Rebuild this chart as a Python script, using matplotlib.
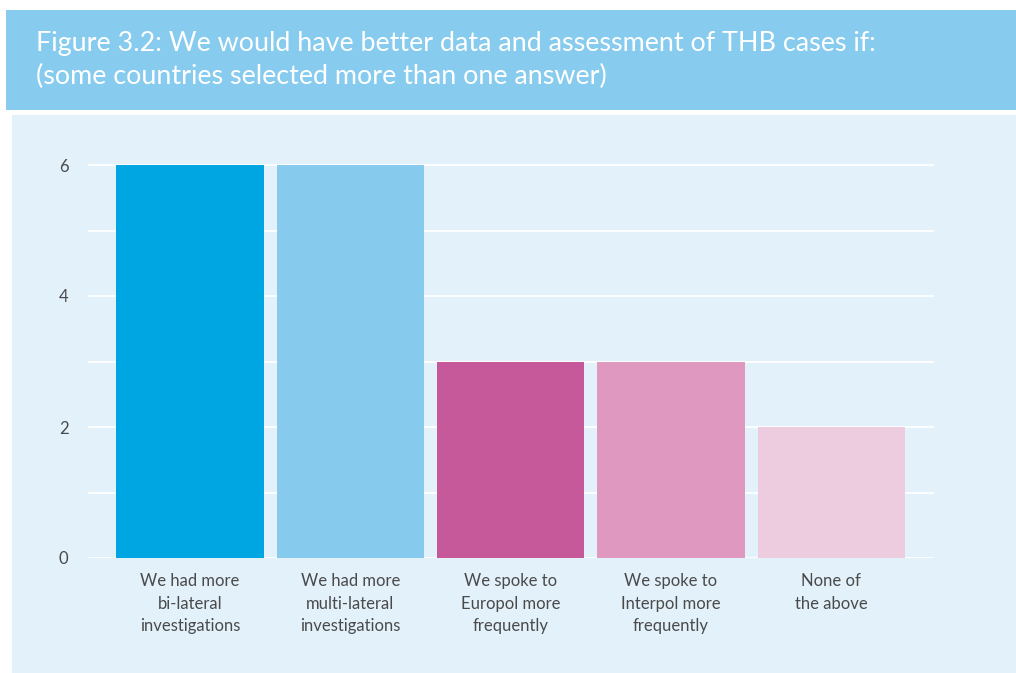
import matplotlib
matplotlib.use("Agg")
import matplotlib.pyplot as plt
from matplotlib.patches import Rectangle

categories = ["We had more\nbi-lateral\ninvestigations",
              "We had more\nmulti-lateral\ninvestigations",
              "We spoke to\nEuropol more\nfrequently",
              "We spoke to\nInterpol more\nfrequently",
              "None of\nthe above"]
values = [6, 6, 3, 3, 2]
colors = ["#00A6E2", "#86CBEE", "#C65999", "#DF98C0", "#EDCCE0"]
title = "Figure 3.2: We would have better data and assessment of THB cases if:\n(some countries selected more than one answer)"

W, H = 1016, 673
fig = plt.figure(figsize=(W/100, H/100), dpi=100)
fig.patch.set_facecolor("white")

def px_rect(x0, y0, x1, y1, color):
    fig.patches.append(Rectangle((x0/W, 1 - y1/H), (x1-x0)/W, (y1-y0)/H,
                                 transform=fig.transFigure, facecolor=color,
                                 edgecolor="none", zorder=-10))

px_rect(6, 10, W, 110, "#87CBEE")
px_rect(12, 115, W, H, "#E3F1FB")

fig.text(36/W, 1 - 31/H, title, color="white", fontsize=19.4, family="Lato",
         va="top", ha="left", linespacing=1.38)

ax_top, ax_bot = 160, 558
ax = fig.add_axes([88/W, 1 - ax_bot/H, 846/W, (ax_bot-ax_top)/H])
ax.set_facecolor("none")
x = list(range(len(values)))
ax.bar(x, values, width=0.92, color=colors, zorder=3)
ax.set_xlim(-0.636, 4.64)
ax.set_ylim(0, 6 * (ax_bot - ax_top) / (ax_bot - 165))
ax.set_yticks([0, 2, 4, 6])
ax.set_yticks([1, 3, 5], minor=True)
ax.grid(axis="y", which="both", color="white", linewidth=1.3, zorder=1)
ax.set_axisbelow(True)
for s in ax.spines.values():
    s.set_visible(False)
ax.tick_params(axis="both", which="both", length=0)
ax.tick_params(axis="y", pad=14, labelsize=12, labelcolor="#4a4a4a")
ax.set_xticks(x)
ax.set_xticklabels(categories, fontsize=12, color="#4a4a4a", family="Lato",
                   linespacing=1.5)
ax.tick_params(axis="x", pad=11)
for lbl in ax.get_yticklabels():
    lbl.set_family("Lato")

fig.savefig("out.png", dpi=100)
